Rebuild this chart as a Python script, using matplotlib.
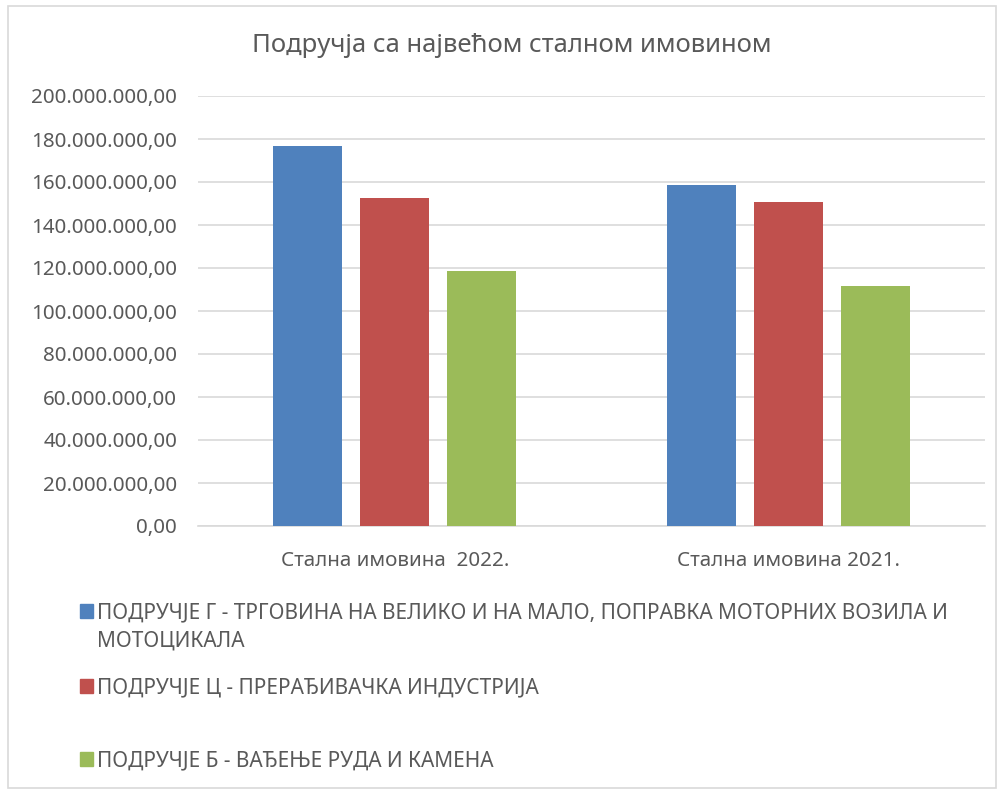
import matplotlib.pyplot as plt
from matplotlib.patches import Rectangle

plt.rcParams['font.family'] = ['Noto Sans', 'DejaVu Sans']

categories = ['Стална имовина  2022.', 'Стална имовина 2021.']
series_names = ['ПОДРУЧЈЕ Г - ТРГОВИНА НА ВЕЛИКО И НА МАЛО, ПОПРАВКА МОТОРНИХ ВОЗИЛА И\nМОТОЦИКАЛА',
                'ПОДРУЧЈЕ Ц - ПРЕРАЂИВАЧКА ИНДУСТРИЈА',
                'ПОДРУЧЈЕ Б - ВАЂЕЊЕ РУДА И КАМЕНА']
values = [[176.7e6, 158.5e6],
          [152.7e6, 150.7e6],
          [118.6e6, 111.8e6]]
colors = ['#4F81BD', '#C0504D', '#9BBB59']
yticks = list(range(0, 200000001, 20000000))

txt = '#595959'

fig = plt.figure(figsize=(10.03, 7.94), dpi=100)
ax = fig.add_axes([198/1003, 1-526/794, 787/1003, 430/794])

bw = 0.1756
step = 0.2214
for i, (vals, c) in enumerate(zip(values, colors)):
    xs = [k + (i-1)*step for k in range(len(categories))]
    ax.bar(xs, vals, width=bw, color=c, zorder=3)

ax.set_xlim(-0.5, 1.5)
ax.set_ylim(0, 200e6)
ax.set_yticks(yticks)
ax.set_yticklabels([f"{v:,.2f}".replace(',', ' ').replace('.', ',').replace(' ', '.') for v in yticks],
                   fontsize=14.8, color=txt)
ax.set_xticks(range(len(categories)))
ax.set_xticklabels(categories, fontsize=14.8, color=txt)
ax.tick_params(length=0)
ax.tick_params(axis='y', pad=15)
ax.tick_params(axis='x', pad=18)
ax.grid(axis='y', color='#D9D9D9', lw=1.2, zorder=0)
for s in ['top', 'right', 'left']:
    ax.spines[s].set_visible(False)
ax.spines['bottom'].set_color('#D9D9D9')
ax.spines['bottom'].set_linewidth(1.2)

fig.text(512/1003, 1-46/794, 'Подручја са највећом сталном имовином', ha='center', va='center',
         fontsize=18.5, color=txt)

# legend
leg_y = [611, 686, 759]
for name, c, y in zip(series_names, colors, leg_y):
    fig.patches.append(Rectangle((80/1003, 1-(y+7)/794), 13/1003, 14/794,
                                 transform=fig.transFigure, color=c))
    fig.text(97/1003, 1-(y-9)/794, name, ha='left', va='top', fontsize=15, color=txt,
             linespacing=1.5)

fig.patches.append(Rectangle((8/1003, 1-788/794), 988/1003, 782/794, transform=fig.transFigure,
                             fill=False, ec='#D9D9D9', lw=1.2))

fig.savefig('out.png', dpi=100)
